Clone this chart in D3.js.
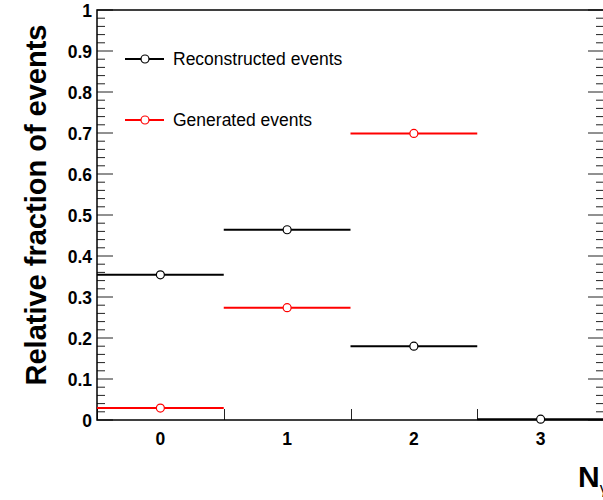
<!DOCTYPE html>
<html>
<head>
<meta charset="utf-8">
<script src="https://cdn.jsdelivr.net/npm/d3@7"></script>
<style>
  html, body { margin: 0; padding: 0; background: #fff; }
  svg { display: block; font-family: "Liberation Sans", Arial, Helvetica, sans-serif; }
</style>
</head>
<body>
<svg id="chart" width="603" height="500"></svg>
<script>
// Photon multiplicity bins and the fraction of events in each
const bins = [0, 1, 2, 3];
const reconstructed = [0.354, 0.464, 0.180, 0.002];
const generated = [0.029, 0.274, 0.699, 0];
const yTicks = [0, 0.1, 0.2, 0.3, 0.4, 0.5, 0.6, 0.7, 0.8, 0.9, 1];
const seriesNames = ["Reconstructed events", "Generated events"];

const svg = d3.select("#chart");
const frame = { left: 97, right: 604, top: 10, bottom: 420 };

const x = d3.scaleLinear().domain([-0.5, 3.5]).range([frame.left, frame.right]);
const y = d3.scaleLinear().domain([0, 1]).range([frame.bottom, frame.top]);

// minor ticks every 0.02
const minorTicks = d3.range(0, 51).map(i => i * 0.02).filter(v => !yTicks.some(t => Math.abs(t - v) < 1e-9));

const axes = svg.append("g");
// left & right y ticks
[[frame.left, 1], [frame.right, -1]].forEach(([x0, dir]) => {
  axes.selectAll(null).data(yTicks).enter().append("line")
    .attr("x1", x0).attr("x2", x0 + dir * 16)
    .attr("y1", d => y(d)).attr("y2", d => y(d))
    .attr("stroke", "#222").attr("stroke-width", 1);
  axes.selectAll(null).data(minorTicks).enter().append("line")
    .attr("x1", x0).attr("x2", x0 + dir * 8)
    .attr("y1", d => y(d)).attr("y2", d => y(d))
    .attr("stroke", "#222").attr("stroke-width", 1);
});

// x ticks at bin edges
const edges = [-0.5, 0.5, 1.5, 2.5, 3.5];
axes.selectAll(null).data(edges).enter().append("line")
  .attr("x1", d => Math.round(x(d)) + 0.5).attr("x2", d => Math.round(x(d)) + 0.5)
  .attr("y1", frame.bottom).attr("y2", frame.bottom - 11)
  .attr("stroke", "#222").attr("stroke-width", 1);

// frame
svg.append("rect")
  .attr("x", frame.left).attr("y", frame.top)
  .attr("width", frame.right - frame.left).attr("height", frame.bottom - frame.top)
  .attr("fill", "none").attr("stroke", "#000").attr("stroke-width", 1.5);

// y tick labels
svg.append("g").selectAll("text").data(yTicks).enter().append("text")
  .attr("x", 92).attr("y", d => y(d) + 7)
  .attr("text-anchor", "end")
  .attr("font-weight", "bold").attr("font-size", 17.5)
  .text(d => d === 0 ? "0" : d === 1 ? "1" : d3.format(".1f")(d));

// x tick labels
svg.append("g").selectAll("text").data(bins).enter().append("text")
  .attr("x", d => x(d)).attr("y", 445)
  .attr("text-anchor", "middle")
  .attr("font-weight", "bold").attr("font-size", 17.5)
  .text(d => d);

// y axis title
svg.append("text")
  .attr("transform", "translate(46,205) rotate(-90)")
  .attr("text-anchor", "middle")
  .attr("font-weight", "bold").attr("font-size", 29)
  .text("Relative fraction of events");

// x axis title
const xt = svg.append("text").attr("x", 578).attr("y", 487)
  .attr("font-weight", "bold").attr("font-size", 30);
xt.append("tspan").text("N");
xt.append("tspan").attr("dy", 7).attr("font-size", 16).attr("font-weight", "normal").text("γ");

// histogram series
function drawSeries(values, color) {
  const g = svg.append("g");
  const data = bins.map((b, i) => ({ b, v: values[i] })).filter(d => d.v > 0);
  g.selectAll("line").data(data).enter().append("line")
    .attr("x1", d => x(d.b - 0.5)).attr("x2", d => x(d.b + 0.5))
    .attr("y1", d => y(d.v)).attr("y2", d => y(d.v))
    .attr("stroke", color).attr("stroke-width", 2);
  g.selectAll("circle").data(data).enter().append("circle")
    .attr("cx", d => x(d.b)).attr("cy", d => y(d.v)).attr("r", 4)
    .attr("fill", "#fff").attr("stroke", color).attr("stroke-width", 1.2);
}
drawSeries(generated, "#ff0000");
drawSeries(reconstructed, "#000000");

// legend
const legend = svg.append("g");
const legendItems = [
  { name: seriesNames[0], color: "#000", yPos: 59 },
  { name: seriesNames[1], color: "#ff0000", yPos: 120 }
];
legendItems.forEach(it => {
  legend.append("line").attr("x1", 125).attr("x2", 164)
    .attr("y1", it.yPos).attr("y2", it.yPos)
    .attr("stroke", it.color).attr("stroke-width", 2);
  legend.append("circle").attr("cx", 145).attr("cy", it.yPos).attr("r", 4)
    .attr("fill", "#fff").attr("stroke", it.color).attr("stroke-width", 1.2);
  legend.append("text").attr("x", 173).attr("y", it.yPos + 6)
    .attr("font-size", 17.5).text(it.name);
});
</script>
</body>
</html>
